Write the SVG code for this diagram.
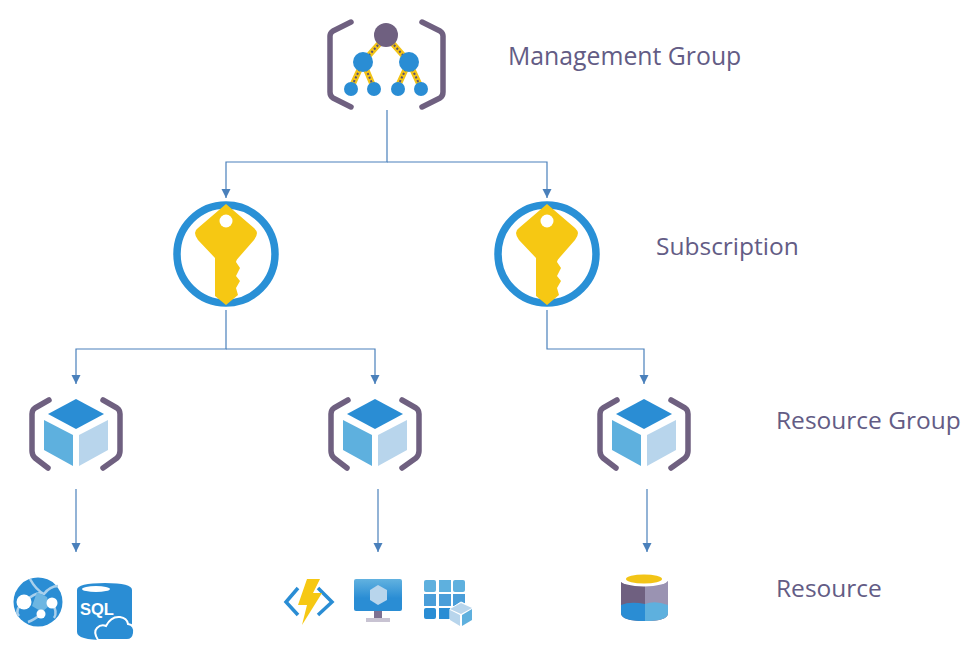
<svg xmlns="http://www.w3.org/2000/svg" width="975" height="653" viewBox="0 0 975 653">
<style>
.lbl{font-family:"Open Sans","Noto Sans","Liberation Sans",sans-serif;fill:#635c85;font-size:24.5px}
.con{fill:none;stroke:#4a80bb;stroke-width:1.2}
.br{fill:none;stroke:#6f6080;stroke-width:5.5;stroke-linecap:round;stroke-linejoin:round}
.ye{stroke:#f2c416;stroke-width:6}
.da{stroke:#5a5070;stroke-width:2;stroke-dasharray:2 2}
</style>
<defs>
<marker id="ah" markerUnits="userSpaceOnUse" markerWidth="10" markerHeight="10" refX="9" refY="4.5" orient="auto"><path d="M0 0L9 4.5L0 9Z" fill="#4a80bb"/></marker>
<linearGradient id="vmg" x1="0" y1="0" x2="0" y2="1"><stop offset="0" stop-color="#62b2e0"/><stop offset="0.6" stop-color="#2a8dd4"/></linearGradient>
<g id="key">
<circle cx="0" cy="0" r="49" fill="#fff" stroke="#2990d6" stroke-width="7.5"/>
<path d="M0 -50L28 -26Q31 -23 31 -21Q31 -18 28 -14L14 2Q10 6 10 8L14 14L10 22L14 27L10 34L12 41L0 51L-11 42V4L-28 -14Q-31 -18 -31 -21Q-31 -24 -28 -26Z" fill="#f6c813"/>
<circle cx="0" cy="-33" r="6.5" fill="#fff"/>
</g>
<g id="cube">
<path d="M-27 -35L-41 -27Q-44 -25 -44 -21V16Q-44 20 -41 23L-28 33" class="br"/>
<path d="M27 -35L41 -27Q44 -25 44 -21V16Q44 20 41 23L27 33" class="br"/>
<path d="M-28 -21L0 -36L28 -21L0 -6Z" fill="#2a8dd4"/>
<path d="M-32 -15L-3 0V31L-32 15Z" fill="#5eb0de"/>
<path d="M3 0L32 -15V15L3 31Z" fill="#b8d5ec"/>
</g>
</defs>
<rect width="975" height="653" fill="#fff"/>
<g id="connectors">
<path class="con" d="M387 110V162H226V198" marker-end="url(#ah)"/>
<path class="con" d="M387 162H547V198" marker-end="url(#ah)"/>
<path class="con" d="M226 310V349H76V384" marker-end="url(#ah)"/>
<path class="con" d="M226 349H375V384" marker-end="url(#ah)"/>
<path class="con" d="M547 310V349H644V384" marker-end="url(#ah)"/>
<path class="con" d="M76 489V552" marker-end="url(#ah)"/>
<path class="con" d="M378 489V552" marker-end="url(#ah)"/>
<path class="con" d="M647 489V552" marker-end="url(#ah)"/>
</g>
<g id="management-group">
<path class="br" d="M351 22L333 31Q330 33 330 36V92Q330 96 333 98L351 107"/>
<path class="br" d="M422 22L440 31Q443 33 443 36V92Q443 96 440 98L422 107"/>
<g class="ye"><path d="M386 36L363 62M386 36L409 62M363 62L351 88M363 62L374 88M409 62L397 88M409 62L421 88"/></g>
<g class="da"><path d="M386 36L363 62M386 36L409 62M363 62L351 88M363 62L374 88M409 62L397 88M409 62L421 88"/></g>
<circle cx="386" cy="35" r="12" fill="#6f6080"/>
<circle cx="363" cy="62" r="10" fill="#2a8dd4"/>
<circle cx="409" cy="62" r="10" fill="#2a8dd4"/>
<circle cx="351" cy="89" r="7" fill="#2a8dd4"/>
<circle cx="374" cy="89" r="7" fill="#2a8dd4"/>
<circle cx="398" cy="89" r="7" fill="#2a8dd4"/>
<circle cx="421" cy="89" r="7" fill="#2a8dd4"/>
<text class="lbl" x="508" y="65" style="font-size:24.8px">Management Group</text>
</g>
<g id="subscription-1"><use href="#key" x="226" y="254"/></g>
<g id="subscription-2"><use href="#key" x="547" y="254"/>
<text class="lbl" x="656" y="255">Subscription</text></g>
<g id="resource-group-1"><use href="#cube" x="76" y="435"/></g>
<g id="resource-group-2"><use href="#cube" x="375" y="435"/></g>
<g id="resource-group-3"><use href="#cube" x="644" y="435"/>
<text class="lbl" x="776" y="429">Resource Group</text></g>
<g id="resource-web">
<circle cx="38" cy="602" r="24.5" fill="#2a8dd4"/>
<path d="M30 579Q36 590 44 594Q50 586 58 586M24 602Q14 610 19 616M52 603Q58 612 54 618M41 614Q34 620 28 622M24 602Q38 590 44 594" fill="none" stroke="#a9d0ec" stroke-width="2.5"/>
<path d="M37 592L47 597L49 606L42 612L32 606Z" fill="#6db6e2"/>
<circle cx="24" cy="602" r="7.5" fill="#fff"/>
<circle cx="52" cy="603" r="5.5" fill="#fff"/>
<circle cx="41" cy="614" r="4.5" fill="#fff"/>
</g>
<g id="resource-sql">
<path d="M77 590Q77 583 105 583Q132 583 132 590V632Q132 640 105 640Q77 640 77 632Z" fill="#2a8dd4"/>
<ellipse cx="96" cy="589" rx="14" ry="3" fill="#fff"/>
<text x="97" y="615" text-anchor="middle" font-family="Liberation Sans,sans-serif" font-weight="700" font-size="16.5" fill="#fff">SQL</text>
<path d="M98 640Q93 632 97 628Q101 624 106 626Q111 616 120 617Q127 618 128 624Q135 625 134 633Q133 640 127 640Z" fill="#2a8dd4" stroke="#fff" stroke-width="2"/>
</g>
<g id="resource-function">
<path d="M298 588L286 602L298 615M318 588L332 602L318 615" fill="none" stroke="#2a8dd4" stroke-width="3.5"/>
<path d="M307 579H320L313 593H322L302 625L307 605H298Z" fill="#f6c813"/>
</g>
<g id="resource-vm">
<rect x="354" y="579" width="48" height="32" rx="2" fill="url(#vmg)"/>
<path d="M378 585L387 590V600L378 605L370 600V590Z" fill="#b8d5ec"/>
<rect x="374" y="611" width="8" height="7" fill="#7d7192"/>
<rect x="366" y="618" width="24" height="4" fill="#c8c3d2"/>
</g>
<g id="resource-storage" fill="#2a8dd4">
<rect x="424" y="580" width="12" height="12" rx="2" fill="#5eb0de"/>
<rect x="439" y="580" width="12" height="12" fill="#5eb0de"/>
<rect x="453" y="580" width="12" height="12" rx="2" fill="#5eb0de"/>
<rect x="424" y="594" width="12" height="12" fill="#4a9ed9"/>
<rect x="439" y="594" width="12" height="12" fill="#4a9ed9"/>
<rect x="453" y="594" width="12" height="12" fill="#4a9ed9"/>
<rect x="424" y="608" width="12" height="11" rx="2"/>
<rect x="439" y="608" width="12" height="11"/>
<path d="M450 609L461 602L472 607V620L461 626L450 620Z" fill="#fff" stroke="#fff"/>
<path d="M450 609L461 603L472 608L461 614Z" fill="#b8d5ec"/>
<path d="M450 610L460 615V626L450 620Z" fill="#b8d5ec"/>
<path d="M462 615L472 609V620L462 626Z" fill="#5eb0de"/>
</g>
<g id="resource-db">
<path d="M621 581V613Q621 621 645 621Q668 621 668 613V581Z" fill="#6f6080"/>
<path d="M645 581H668V613Q668 621 645 621Z" fill="#9a93b2"/>
<path d="M621 605Q630 601 645 604V621Q621 621 621 613Z" fill="#2a8dd4"/>
<path d="M645 604Q655 600 668 605V613Q668 621 645 621Z" fill="#5eb0de"/>
<ellipse cx="644" cy="580" rx="24" ry="6.5" fill="#fff"/>
<ellipse cx="644" cy="579" rx="18" ry="4.5" fill="#f2c416"/>
<text class="lbl" x="776" y="597">Resource</text>
</g>
</svg>
